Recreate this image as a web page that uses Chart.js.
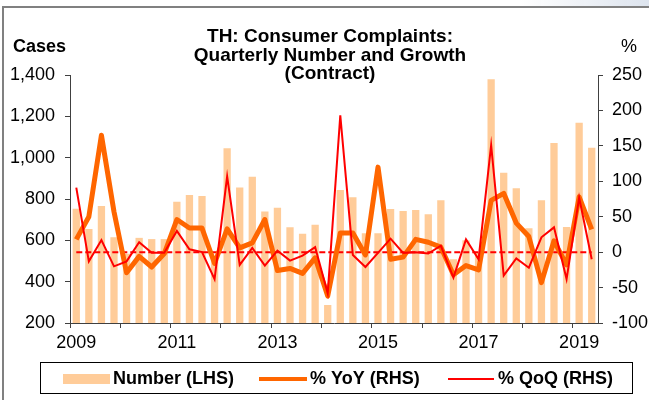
<!DOCTYPE html>
<html>
<head>
<meta charset="utf-8">
<script src="https://cdn.jsdelivr.net/npm/chart.js@4.4.1/dist/chart.umd.min.js"></script>
<style>
  html, body { margin: 0; padding: 0; background: #fff; }
  canvas { display: block; }
</style>
</head>
<body>
<canvas id="complaintsChart" width="649" height="400"></canvas>
<script>
// quarterly data, 2009Q1 - 2019Q2
const quarters = [
  '2009Q1','2009Q2','2009Q3','2009Q4','2010Q1','2010Q2','2010Q3','2010Q4',
  '2011Q1','2011Q2','2011Q3','2011Q4','2012Q1','2012Q2','2012Q3','2012Q4',
  '2013Q1','2013Q2','2013Q3','2013Q4','2014Q1','2014Q2','2014Q3','2014Q4',
  '2015Q1','2015Q2','2015Q3','2015Q4','2016Q1','2016Q2','2016Q3','2016Q4',
  '2017Q1','2017Q2','2017Q3','2017Q4','2018Q1','2018Q2','2018Q3','2018Q4',
  '2019Q1','2019Q2'
];
const yearLabels = ['2009', '2011', '2013', '2015', '2017', '2019'];

const numberCases = [
  753, 655, 766, 615, 535, 612, 606, 606,
  787, 819, 814, 505, 1045, 856, 908, 739,
  758, 663, 632, 676, 287, 843, 808, 634,
  634, 752, 742, 747, 726, 794, 508, 600,
  540, 1380, 927, 852, 658, 794, 1071, 664,
  1169, 1048
];
const yoyGrowth = [
  18, 50, 165, 57, -29, -6, -21, -2,
  46, 34, 34, -16, 33, 6, 13, 46,
  -26, -23, -30, -8, -62, 27, 27, -4,
  120, -10, -7, 18, 14, 7, -32, -19,
  -25, 73, 83, 41, 22, -43, 16, -18,
  78, 32
];
const qoqGrowth = [
  91, -13, 17, -20, -13, 14, -1, -1,
  30, 4, 0, -38, 107, -18, 6, -19,
  2, -12, -5, 7, -58, 193, -4, -21,
  -1, 19, -1, 0, -2, 9, -36, 18,
  -10, 151, -33, -9, -22, 21, 35, -38,
  77, -10
];
const zeroLine = [
  { x: '2009Q1', y: 0 },
  { x: '2019Q2', y: 0 }
];

const FONT = "'Liberation Sans', Arial, sans-serif";
Chart.defaults.font.family = FONT;
Chart.defaults.color = '#000';

const AXIS = '#404040';

// title, axis captions, frame and boxed legend
const decorations = {
  id: 'decorations',
  afterDraw(chart) {
    const c = chart.ctx;
    c.save();

    // frame of the slide
    const grad = c.createLinearGradient(520, 0, 649, 0);
    grad.addColorStop(0, 'rgba(221,228,238,0)');
    grad.addColorStop(1, 'rgba(221,228,238,1)');
    c.fillStyle = grad;
    c.fillRect(520, 0, 129, 7);
    c.strokeStyle = '#808080';
    c.lineWidth = 2;
    c.beginPath();
    c.moveTo(3, 400);
    c.lineTo(3, 7);
    c.lineTo(649, 7);
    c.stroke();

    // title
    c.fillStyle = '#000';
    c.textAlign = 'center';
    c.textBaseline = 'middle';
    c.font = 'bold 19px ' + FONT;
    c.fillText('TH: Consumer Complaints:', 330, 37);
    c.fillText('Quarterly Number and Growth', 330, 56);
    c.fillText('(Contract)', 330, 74);

    c.textAlign = 'left';
    c.font = 'bold 18px ' + FONT;
    c.fillText('Cases', 13, 47);
    c.textAlign = 'center';
    c.font = '18px ' + FONT;
    c.fillText('%', 629, 47);

    // legend
    c.strokeStyle = '#000';
    c.lineWidth = 1;
    c.strokeRect(40.5, 362.5, 592, 31);
    const ds = chart.data.datasets;
    const ly = 379;
    c.font = 'bold 18px ' + FONT;
    c.textAlign = 'left';

    c.fillStyle = ds[0].backgroundColor;
    c.fillRect(63, ly - 5, 47, 10);
    c.fillStyle = '#000';
    c.fillText(ds[0].label, 113, ly);

    c.strokeStyle = ds[1].borderColor;
    c.lineWidth = 4;
    c.beginPath(); c.moveTo(259, ly); c.lineTo(307, ly); c.stroke();
    c.fillText(ds[1].label, 310, ly);

    c.strokeStyle = ds[2].borderColor;
    c.lineWidth = 2;
    c.beginPath(); c.moveTo(448, ly); c.lineTo(494, ly); c.stroke();
    c.fillText(ds[2].label, 498, ly);

    c.restore();
  }
};

const ctx = document.getElementById('complaintsChart').getContext('2d');
new Chart(ctx, {
  type: 'bar',
  data: {
    labels: quarters,
    datasets: [
      {
        label: 'Number (LHS)',
        data: numberCases,
        backgroundColor: '#FFCC99',
        yAxisID: 'y',
        categoryPercentage: 1,
        barPercentage: 0.58,
        order: 4
      },
      {
        type: 'line',
        label: '% YoY (RHS)',
        data: yoyGrowth,
        borderColor: '#FF6600',
        borderWidth: 5,
        borderJoinStyle: 'round',
        pointRadius: 0,
        tension: 0,
        yAxisID: 'y1',
        order: 2
      },
      {
        type: 'line',
        label: '% QoQ (RHS)',
        data: qoqGrowth,
        borderColor: '#FF0000',
        borderWidth: 2,
        pointRadius: 0,
        tension: 0,
        yAxisID: 'y1',
        order: 1
      },
      {
        type: 'line',
        label: 'zero',
        data: zeroLine,
        borderColor: '#FF0000',
        borderWidth: 2,
        borderDash: [6, 3],
        pointRadius: 0,
        yAxisID: 'y1',
        order: 3
      }
    ]
  },
  options: {
    responsive: false,
    animation: false,
    layout: { padding: { top: 75, left: 0, right: 0, bottom: 0 } },
    plugins: {
      legend: { display: false },
      tooltip: { enabled: false },
      title: { display: false }
    },
    scales: {
      x: {
        offset: true,
        grid: {
          offset: true,
          drawOnChartArea: false,
          drawTicks: true,
          tickLength: 5,
          color: (c) => (c.index % 4 === 0 ? AXIS : 'rgba(0,0,0,0)')
        },
        border: { display: true, color: AXIS, width: 1 },
        ticks: {
          autoSkip: false,
          maxRotation: 0,
          padding: 4,
          font: { size: 18 },
          callback: (v, i) => (i % 8 === 0 ? yearLabels[i / 8] : '')
        },
        afterFit: (s) => { s.height = 77; }
      },
      y: {
        position: 'left',
        min: 200,
        max: 1400,
        grid: { drawOnChartArea: false, drawTicks: true, tickLength: 5, color: AXIS },
        border: { display: true, color: AXIS, width: 1 },
        ticks: {
          stepSize: 200,
          padding: 10,
          font: { size: 18 },
          callback: (v) => v.toLocaleString('en-US')
        },
        afterFit: (s) => { s.width = 70; }
      },
      y1: {
        position: 'right',
        min: -100,
        max: 250,
        grid: { drawOnChartArea: false, drawTicks: true, tickLength: 5, color: AXIS },
        border: { display: true, color: AXIS, width: 1 },
        ticks: {
          stepSize: 50,
          padding: 9,
          font: { size: 18 }
        },
        afterFit: (s) => { s.width = 51; }
      }
    }
  },
  plugins: [decorations]
});
</script>
</body>
</html>
